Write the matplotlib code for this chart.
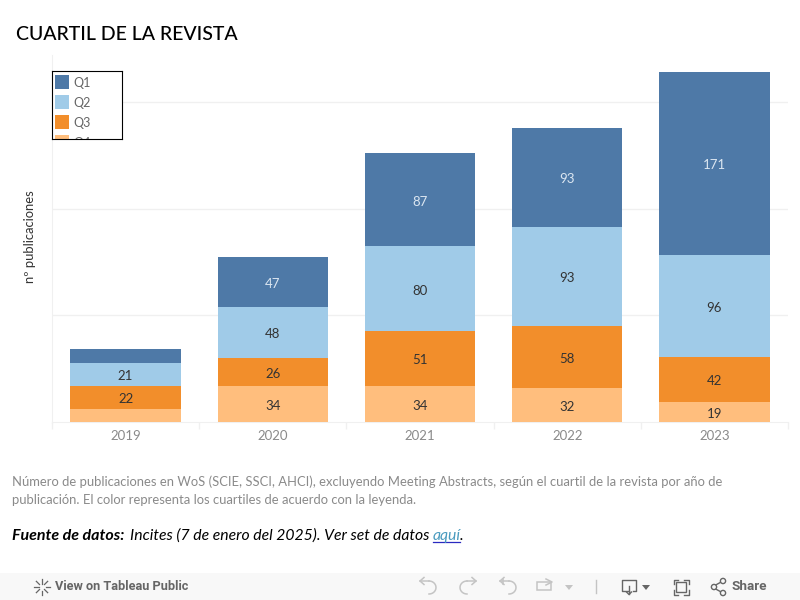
import matplotlib
matplotlib.use("Agg")
import matplotlib.pyplot as plt
import numpy as np
from matplotlib.patches import Rectangle

plt.rcParams['font.family'] = ['Lato', 'DejaVu Sans']

years = ['2019', '2020', '2021', '2022', '2023']
q4 = [12, 34, 34, 32, 19]
q3 = [22, 26, 51, 58, 42]
q2 = [21, 48, 80, 93, 96]
q1 = [13, 47, 87, 93, 171]
series_names = ['Q1', 'Q2', 'Q3', 'Q4']
colores = {'Q1': '#4e79a7', 'Q2': '#a0cbe8', 'Q3': '#f28e2b', 'Q4': '#ffbe7d'}
min_label = 15  # the two small segments of 2019 have no label

W, H = 800, 600
fig = plt.figure(figsize=(8, 6), dpi=100)

def px_axes(x0, y0, x1, y1):
    # axes placed with pixel positions measured from the top left
    return fig.add_axes([x0 / W, 1 - y1 / H, (x1 - x0) / W, (y1 - y0) / H])

# Grafica
ax = px_axes(52, 55, 788, 422)
x = np.arange(len(years))
base = np.zeros(len(years))
for name, vals in [('Q4', q4), ('Q3', q3), ('Q2', q2), ('Q1', q1)]:
    ax.bar(x, vals, width=0.75, bottom=base, color=colores[name], zorder=3)
    for xi, b, v in zip(x, base, vals):
        if v >= min_label:
            c = '#dbe6f1' if name == 'Q1' else '#333333'
            ax.annotate(str(v), (xi, b + v / 2), xytext=(0, -1.4), textcoords='offset points',
                        ha='center', va='center', fontsize=9.5, color=c, zorder=4)
    base = base + np.array(vals)

ax.set_xlim(-0.5, 4.5)
ax.set_ylim(0, 344)
ax.set_yticks([100, 200, 300])
ax.set_yticklabels([])
ax.tick_params(axis='y', length=0)
ax.grid(axis='y', color='#f0f0f0', lw=1, zorder=0)
ax.set_xticks(x)
ax.set_xticklabels(years, fontsize=9.5, color='#8a8a8a')
ax.tick_params(axis='x', length=0, pad=6)
ax.set_xticks(np.arange(-0.5, 5, 1), minor=True)
ax.tick_params(axis='x', which='minor', length=5, color='#f0f0f0', width=1)
for s in ['top', 'right']:
    ax.spines[s].set_visible(False)
for s in ['left', 'bottom']:
    ax.spines[s].set_color('#f0f0f0')

# Pixel overlay for titles, notes and toolbar
ov = px_axes(0, 0, W, H)
ov.set_xlim(0, W)
ov.set_ylim(H, 0)
ov.axis('off')
ov.patch.set_alpha(0)

ov.text(16, 35, 'CUARTIL DE LA REVISTA', fontsize=14, color='black',
        va='center', ha='left', fontweight='medium')
ov.text(30, 237, 'nº publicaciones', fontsize=9.4, color='#333333', rotation=90,
        ha='center', va='center')

nota_1 = 'Número de publicaciones en WoS (SCIE, SSCI, AHCI), excluyendo Meeting Abstracts, según el cuartil de la revista por año de'
nota_2 = 'publicación. El color representa los cuartiles de acuerdo con la leyenda.'
ov.text(12, 482, nota_1, fontsize=9.35, color='#8a8a8a', va='center')
ov.text(12, 500, nota_2, fontsize=9.35, color='#8a8a8a', va='center')

ov.text(12, 536, 'Fuente de datos:', fontsize=11.5, color='black', va='center',
        style='italic', fontweight='bold')
ov.text(129.5, 536, 'Incites (7 de enero del 2025). Ver set de datos', fontsize=11.3,
        color='black', va='center', style='italic')
ov.text(433, 536, 'aquí', fontsize=11.3, color='#4a9bbf', va='center', style='italic')
ov.plot([433, 460], [542, 542], color='#2a2ac0', lw=0.9)
ov.text(460, 536, '.', fontsize=11.3, color='black', va='center', style='italic')

# Toolbar
ov.add_patch(Rectangle((0, 573), W, 27, color='#f8f8f8', lw=0))
gris = '#666666'
claro = '#c4c4c4'
for ang in np.arange(0, 360, 45):
    a = np.deg2rad(ang)
    ov.plot([42 + 3.5 * np.cos(a), 42 + 8 * np.cos(a)],
            [587 + 3.5 * np.sin(a), 587 + 8 * np.sin(a)], color=gris, lw=0.9)
ov.text(55, 587, 'View on Tableau Public', fontsize=9.2, color=gris, va='center',
        fontweight='bold', family=['Roboto', 'DejaVu Sans'])

def arrow_icon(cx, flip=1):
    t = np.linspace(-np.pi / 2, np.pi / 2, 20)
    ov.plot(cx + flip * (1 + 7 * np.cos(t)), 587.5 + 6.5 * np.sin(t), color=claro, lw=1.1)
    ov.plot([cx + flip * 1, cx - flip * 8], [581, 581], color=claro, lw=1.1)
    ov.plot([cx - flip * 4, cx - flip * 8, cx - flip * 4], [577.5, 581, 584.5], color=claro, lw=1.1)

arrow_icon(428, 1)
arrow_icon(468, -1)
arrow_icon(508, 1)
ov.plot([503, 503], [579, 584], color=claro, lw=1.1)
ov.add_patch(Rectangle((537, 582), 14, 8, fill=False, ec=claro, lw=1.1))
ov.plot([546, 552, 546], [579, 582, 585], color=claro, lw=1.1)
ov.fill([565, 573, 569], [585, 585, 590], color=claro, lw=0)
ov.plot([595.5, 595.5], [580, 593], color=claro, lw=1)

ov.plot([629, 622, 622, 636, 636, 633], [591, 591, 580, 580, 591, 591], color=gris, lw=1)
ov.plot([629, 629], [586, 594], color=gris, lw=1)
ov.plot([626.5, 629, 631.5], [592, 594.5, 592], color=gris, lw=1)
ov.fill([642, 650, 646], [585, 585, 590], color=gris, lw=0)

for sx, sy in [(-1, -1), (1, -1), (-1, 1), (1, 1)]:
    ov.plot([681 + sx * 7.5, 681 + sx * 7.5, 681 + sx * 3],
            [587 + sy * 3, 587 + sy * 7.5, 587 + sy * 7.5], color=gris, lw=1)
ov.add_patch(Rectangle((676, 582), 10, 10, fill=False, ec=gris, lw=1))

ov.plot([723, 712, 723], [581, 587, 593], color=gris, lw=1)
for cx, cy in [(723, 581), (714, 587), (723, 593)]:
    ov.add_patch(plt.Circle((cx, cy), 2.6, fc='#f8f8f8', ec=gris, lw=1, zorder=5))
ov.text(732, 587, 'Share', fontsize=9.7, color=gris, va='center', fontweight='bold',
        family=['Roboto', 'DejaVu Sans'])

# Legend box, cut off at the bottom as in the dashboard
leg = px_axes(52, 71, 122, 139)
leg.set_xlim(0, 70)
leg.set_ylim(68, 0)
leg.set_xticks([])
leg.set_yticks([])
for s in leg.spines.values():
    s.set_color('black')
    s.set_linewidth(0.8)
for i, name in enumerate(series_names):
    leg.add_patch(Rectangle((3, 4 + i * 20), 14, 14, color=colores[name], lw=0))
    leg.text(21.5, 12 + i * 20, name, fontsize=9, color='#666666', va='center', clip_on=True)

fig.savefig('out.png', dpi=100)
